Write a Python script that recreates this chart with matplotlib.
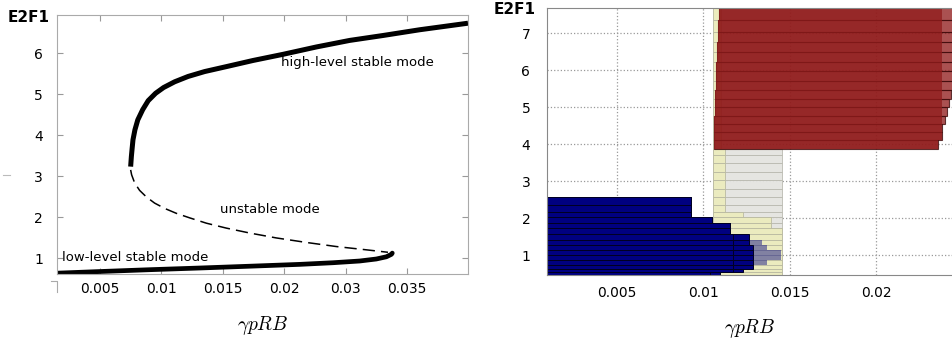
import numpy as np
import matplotlib
matplotlib.use('Agg')
import matplotlib.pyplot as plt
from matplotlib.lines import Line2D

plt.rcParams['mathtext.fontset'] = 'cm'
plt.rcParams['font.family'] = 'DejaVu Sans'

# ---------------- left panel: bifurcation curve ----------------
upper_x = [0.00752, 0.00758, 0.00763, 0.00771, 0.00787, 0.0081, 0.0085, 0.00895,
           0.00955, 0.0102, 0.0111, 0.01219, 0.01354, 0.0153, 0.01747, 0.01991,
           0.02525, 0.03034, 0.03305, 0.03603, 0.03996]
upper_y = [3.23, 3.48, 3.64, 3.885, 4.13, 4.37, 4.62, 4.84, 5.02, 5.16, 5.30, 5.43,
           5.55, 5.67, 5.82, 5.97, 6.15, 6.31, 6.43, 6.57, 6.73]
unstable_x = [0.00752, 0.0076, 0.00785, 0.00825, 0.0088, 0.00947, 0.01029, 0.01124,
              0.01232, 0.01368, 0.0153, 0.0172, 0.01937, 0.02362, 0.0285, 0.03169,
              0.03345]
unstable_y = [3.15, 3.03, 2.83, 2.65, 2.49, 2.34, 2.21, 2.09, 1.98, 1.85, 1.73, 1.61,
              1.49, 1.38, 1.28, 1.20, 1.14]
lower_x = [0.00153, 0.005, 0.00907, 0.01313, 0.0172, 0.02254, 0.02796, 0.03115,
           0.0325, 0.03332, 0.03373, 0.0338]
lower_y = [0.63, 0.67, 0.715, 0.756, 0.80, 0.845, 0.885, 0.927, 0.976, 1.03, 1.09, 1.12]

left_xticks = [0.005, 0.01, 0.015, 0.02, 0.03, 0.035]
left_yticks = [1, 2, 3, 4, 5, 6]
# the axis of the original is not linear: ticks are evenly spaced
knot_vals = [0.0, 0.005, 0.01, 0.015, 0.02, 0.03, 0.035, 0.05]
knot_pos = [-1, 0, 1, 2, 3, 4, 5, 8]

# ---------------- right panel: overlapping bar histograms ----------------
low_edges = [0.46, 0.53, 0.62, 0.73, 0.87, 1.00, 1.14, 1.27, 1.41, 1.56, 1.72,
             1.86, 2.02, 2.17, 2.35, 2.56, 2.78, 3.03, 3.25, 3.48, 3.70, 3.88]
red_edges = [3.88, 4.11, 4.33, 4.54, 4.76, 4.99, 5.22, 5.46, 5.71, 5.97, 6.22,
             6.48, 6.75, 7.04, 7.35, 7.70]

gray_left = 0.01055
gray_right = [0.01454] * 21
yellow_left = 0.01055
yellow_right = [0.01454] * 10 + [0.0139, 0.0139, 0.0123] + [0.01124] * 8
yellow_top_right = [0.0110] * 15

blue_right = [0.01095, 0.01228, 0.01286, 0.01286, 0.01286, 0.01286, 0.01286,
              0.01263, 0.01263, 0.01153, 0.01153, 0.01049, 0.00928, 0.00928, 0.00928]
blue_inner_right = [0.0104, 0.01171, 0.01171, 0.01171, 0.01171, 0.01171, 0.01171,
                    0.01171, 0.01171, 0.01153, 0.01153, 0.01049, 0.00928, 0.00928, 0.00928]
blue_faint_right = [0.0, 0.0, 0.0, 0.0137, 0.0145, 0.0145, 0.0137, 0.0134,
                    0.0, 0.0, 0.0, 0.0, 0.0, 0.0, 0.0]

red_left = [0.01061, 0.01061, 0.01061, 0.01061, 0.01066, 0.01066, 0.01066, 0.01072,
            0.01072, 0.01072, 0.01078, 0.01078, 0.01084, 0.01084, 0.0109]
red_right = [0.02361, 0.02379, 0.02384, 0.02396, 0.02408, 0.02419, 0.02431, 0.0246,
             0.0247, 0.0248, 0.0249, 0.025, 0.025, 0.025, 0.025]
red_inner_right = [0.02361, 0.02379, 0.0238, 0.0238, 0.0238, 0.0238, 0.0238, 0.0238,
                   0.0238, 0.0238, 0.0238, 0.0238, 0.0238, 0.0238, 0.0238]

right_xticks = [0.005, 0.01, 0.015, 0.02]
right_yticks = [1, 2, 3, 4, 5, 6, 7]

fig = plt.figure(figsize=(9.53, 3.42), dpi=100)

# ---- left ----
ax1 = fig.add_axes([57 / 953, 1 - 274 / 342, 411 / 953, 259 / 342])
fwd = lambda v: np.interp(v, knot_vals, knot_pos)
inv = lambda p: np.interp(p, knot_pos, knot_vals)
ax1.set_xscale('function', functions=(fwd, inv))
ax1.plot(upper_x, upper_y, color='black', lw=3.6, solid_capstyle='butt',
         solid_joinstyle='round')
ax1.plot(lower_x, lower_y, color='black', lw=3.4, solid_capstyle='round',
         solid_joinstyle='round')
ax1.plot(unstable_x, unstable_y, color='black', lw=1.1, dashes=(8, 4))
ax1.set_xlim(0.00153, 0.03996)
ax1.set_ylim(0.61, 6.93)
ax1.set_xticks(left_xticks)
ax1.set_xticklabels([f'{v:g}' for v in left_xticks])
ax1.set_yticks(left_yticks)
ax1.minorticks_off()
ax1.tick_params(direction='in', length=4, color='#999999', top=True, right=True,
                labelsize=10, pad=6)
ax1.tick_params(axis='y', pad=10)
for s in ax1.spines.values():
    s.set_color('#aaaaaa')
ax1.text(0.03095, 5.76, 'high-level stable mode', ha='center', va='center', fontsize=9.5)
ax1.text(0.01888, 2.19, 'unstable mode', ha='center', va='center', fontsize=9.5)
ax1.text(0.00793, 1.02, 'low-level stable mode', ha='center', va='center', fontsize=9.5)
ax1.set_xlabel(r'$\gamma pRB$', fontsize=14, labelpad=13)

# ---- right ----
ax2 = fig.add_axes([547 / 953, 1 - 275 / 342, 406 / 953, 267 / 342])
ax2.set_axisbelow(True)
ax2.grid(True, linestyle=':', color='#999999', lw=0.9)

lb = np.array(low_edges[:-1])
lh = np.diff(low_edges)
rb = np.array(red_edges[:-1])
rh = np.diff(red_edges)

ax2.barh(lb, np.array(gray_right) - gray_left, height=lh, left=gray_left, align='edge',
         color='#e4e4e0', edgecolor='#b8b8ae', lw=0.6, alpha=0.95)
ax2.barh(lb, np.array(yellow_right) - yellow_left, height=lh, left=yellow_left,
         align='edge', color='#ececbe', edgecolor='#b8b8a0', lw=0.6, alpha=0.95)
ax2.barh(rb, np.array(yellow_top_right) - yellow_left, height=rh, left=yellow_left,
         align='edge', color='#ececbe', edgecolor='#b8b8a0', lw=0.6)

blue_lb = np.array(low_edges[:16][:-1])
blue_lh = np.diff(low_edges[:16])
ax2.barh(blue_lb, blue_faint_right, height=blue_lh, left=0, align='edge',
         color='#000080', alpha=0.45, lw=0)
ax2.barh(blue_lb, blue_right, height=blue_lh, left=0, align='edge',
         color='#000080', edgecolor='#000022', lw=0.7)
ax2.barh(blue_lb, blue_inner_right, height=blue_lh, left=0, align='edge',
         color='#000080', edgecolor='#000022', lw=0.7)

ax2.barh(rb, np.array(red_right) - np.array(red_left), height=rh, left=red_left,
         align='edge', color='#911c1c', alpha=0.77, edgecolor='#3a0808', lw=0.8)
ax2.barh(rb, np.array(red_inner_right) - np.array(red_left), height=rh, left=red_left,
         align='edge', color='#911c1c', alpha=0.77, lw=0)

ax2.set_xlim(0.00095, 0.02445)
ax2.set_ylim(0.46, 7.68)
ax2.set_xticks(right_xticks)
ax2.set_xticklabels([f'{v:g}' for v in right_xticks])
ax2.set_yticks(right_yticks)
ax2.tick_params(length=0, labelsize=10)
ax2.tick_params(axis='y', pad=12)
ax2.tick_params(axis='x', pad=8)
for s in ax2.spines.values():
    s.set_color('#888888')
ax2.spines['right'].set_visible(False)
ax2.set_xlabel(r'$\gamma pRB$', fontsize=14, labelpad=12)

fig.text(50 / 953, 1 - 17 / 342, 'E2F1', ha='right', va='center',
         fontweight='bold', fontsize=11)
fig.text(536 / 953, 1 - 10 / 342, 'E2F1', ha='right', va='center',
         fontweight='bold', fontsize=11)

# small stray marks in the original
fig.add_artist(Line2D([51 / 953, 57 / 953, 57 / 953], [1 - 281 / 342, 1 - 281 / 342, 1 - 292 / 342],
                      color='#aaaaaa', lw=0.8))
fig.add_artist(Line2D([3 / 953, 10 / 953], [1 - 175 / 342, 1 - 175 / 342], color='#bbbbbb', lw=0.8))

fig.savefig('out.png', dpi=100)
